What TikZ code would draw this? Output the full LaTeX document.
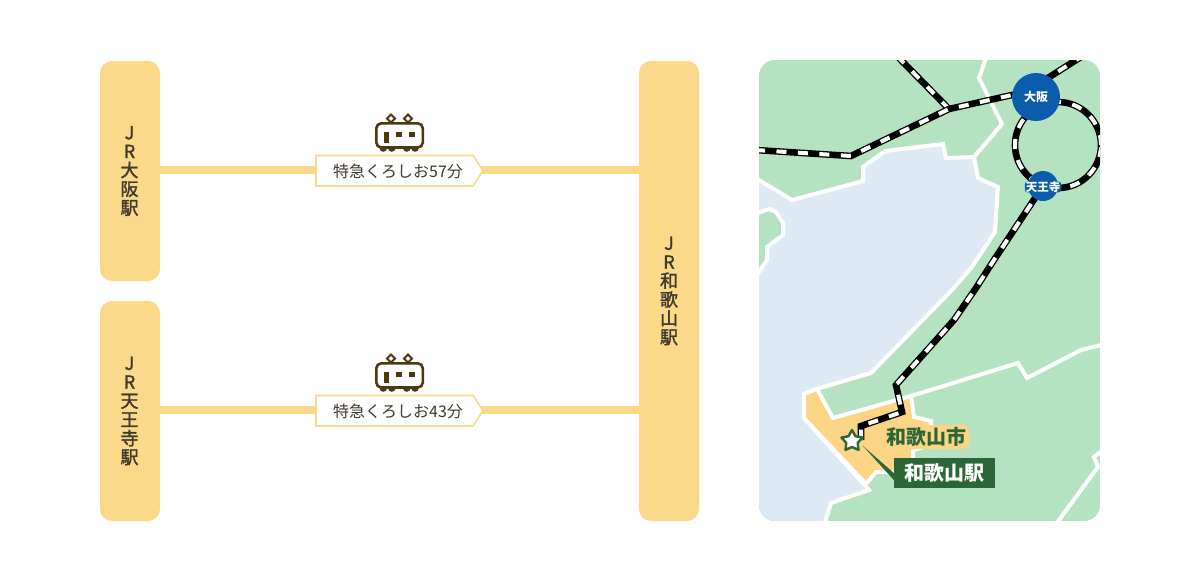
\documentclass[tikz,border=0pt]{standalone}
\usepackage{fontspec}
\setmainfont{Noto Sans CJK JP}
\newfontfamily\medfont[FakeBold=1.6]{Noto Sans CJK JP}
\definecolor{tan}{HTML}{FADA8A}
\definecolor{ink}{HTML}{4A3A10}
\definecolor{textink}{HTML}{3F3A2A}
\definecolor{land}{HTML}{B5E2C0}
\definecolor{sea}{HTML}{DDEAF3}
\definecolor{city}{HTML}{FCD485}
\definecolor{pine}{HTML}{2B6636}
\definecolor{jrblue}{HTML}{0B5CAB}
\tikzset{
  stationbox/.style={draw=none,fill=tan,rounded corners=12pt,minimum width=60pt,inner sep=0pt},
  stationtext/.style={align=center,text=textink,font=\medfont\fontsize{18}{18.8}\selectfont,inner sep=0pt},
  linkline/.style={draw=tan,line width=8pt},
  timetag/.style={draw=tan,fill=white,line width=1.6pt,line join=miter},
  timetext/.style={text=textink,font=\fontsize{16}{18}\selectfont,inner sep=0pt},
  border/.style={draw=white,line width=4pt,line join=miter},
  railb/.style={draw=black,line width=6.6pt,line join=miter},
  railw/.style={draw=white,line width=4pt,dash pattern=on 10pt off 11.5pt,line join=miter},
  trainline/.style={draw=ink,line width=2.6pt},
  trainfill/.style={fill=ink,draw=none},
}
\newcommand{\railline}[1]{\draw[railb] #1; \draw[railw] #1;}
\newcommand{\trainicon}[1]{%
  \begin{scope}[shift={(0,#1)}]
    \draw[trainline,fill=white,line width=1.8pt] (391,114.5) -- (395,118.5) -- (391,122.5) -- (387,118.5) -- cycle;
    \draw[trainline,fill=white,line width=1.8pt] (408,114.5) -- (412,118.5) -- (408,122.5) -- (404,118.5) -- cycle;
    \fill[ink] (379.5,148) arc[start angle=180,end angle=360,radius=3.8pt] -- cycle;
    \fill[ink] (388,148) arc[start angle=180,end angle=360,radius=3.8pt] -- cycle;
    \fill[ink] (403,148) arc[start angle=180,end angle=360,radius=3.8pt] -- cycle;
    \fill[ink] (411.2,148) arc[start angle=180,end angle=360,radius=3.8pt] -- cycle;
    \draw[trainline,fill=white,rounded corners=5pt] (376.3,147.5) -- (376.3,123.3) -- (422.8,123.3) -- (422.8,147.5) -- cycle;
    \fill[trainfill] (384.3,132.3) rectangle (389.3,143.3);
    \fill[trainfill] (396,132.3) rectangle (401.7,136.7);
    \fill[trainfill] (409.3,132.3) rectangle (415,136.7);
  \end{scope}}
\begin{document}
\begin{tikzpicture}[x=1pt,y=-1pt]
\useasboundingbox (0,0) rectangle (1200,582);
\fill[white] (0,0) rectangle (1200,582);
% left panel
\node[stationbox,minimum height=220pt] (osakabox) at (130,171) {};
\node[stationbox,minimum height=220pt] (tennojibox) at (130,411) {};
\node[stationbox,minimum height=460pt] (wakayamabox) at (669,291) {};
\draw[linkline] ([yshift=1pt]osakabox.east) -- ([yshift=1pt]osakabox.east -| wakayamabox.west);
\draw[linkline] ([yshift=1pt]tennojibox.east) -- ([yshift=1pt]tennojibox.east -| wakayamabox.west);
\node[stationtext] (osakatext) at (129.5,171) {J\\R\\大\\阪\\駅};
\node[stationtext] (tennojitext) at (129.5,411) {J\\R\\天\\王\\寺\\駅};
\node[stationtext] (wakayamatext) at (669,291) {J\\R\\和\\歌\\山\\駅};
\trainicon{0}
\trainicon{240}
\draw[timetag] (316,155.5) -- (473,155.5) -- (483,170.5) -- (473,186) -- (316,186) -- cycle;
\draw[timetag] (316,395.5) -- (473,395.5) -- (483,410.5) -- (473,426) -- (316,426) -- cycle;
\node[timetext] (time1) at (398,171.5) {特急くろしお57分};
\node[timetext] (time2) at (398,411.5) {特急くろしお43分};
% map
\begin{scope}
  \clip[rounded corners=16pt] (759,60) rectangle (1100,521);
  \fill[land] (759,60) rectangle (1100,521);
  \draw[border,fill=sea] (750,175) -- (759,180) -- (792,200) -- (863,181) -- (863,167) -- (885,151) -- (943,144) -- (946,158) -- (974,157) -- (978,178) -- (998,187) -- (995,232) -- (972,267) -- (952,290) -- (871,373) -- (817,389) -- (804,394) -- (804,418) -- (869,490) -- (831,503) -- (824,525) -- (750,525) -- cycle;
  \draw[border,fill=land] (750,216) -- (769,209) -- (776,212) -- (783,223) -- (783,235) -- (767,247) -- (767,260) -- (750,285) -- cycle;
  \draw[border,fill=city] (817,389) -- (804,394) -- (804,418) -- (866,484) -- (876,472) -- (913,473) -- (913,450) -- (931,445) -- (931,421) -- (914,417) -- (911,396) -- (833,418) -- cycle;
  \draw[border] (987,55) -- (979,78) -- (1002,124) -- (974,157);
  \draw[border] (911,396) -- (1018,363) -- (1027,378) -- (1081,350) -- (1105,344);
  \draw[border] (1056,524) -- (1098,467) -- (1094,457) -- (1104,449);
  \coordinate (loopc) at (1058,145);
  \coordinate (tr1) at (897,56);
  \coordinate (junction) at (949,109);
  \coordinate (west) at (755,150);
  \coordinate (bendw) at (851,156);
  \coordinate (osakaw) at (1030,91);
  \coordinate (nestart) at (1040,83);
  \coordinate (ne) at (1084,55);
  \coordinate (b1) at (976,288);
  \coordinate (b2) at (954,320);
  \coordinate (b3) at (896,385);
  \coordinate (b4) at (902,412);
  \coordinate (b5) at (861,426);
  \coordinate (stationpt) at (861,440);
  \coordinate (tennojic) at (1043,186);
  \railline{(loopc) ++(43,0) arc[start angle=0,end angle=360,radius=43pt]}
  \railline{(tr1) -- (junction)}
  \railline{(west) -- (bendw) -- (junction) -- (osakaw)}
  \railline{(nestart) -- (ne)}
  \railline{(tennojic) -- (992,263) -- (b1) -- (b2) -- (b3) -- (b4) -- (b5) -- (stationpt)}
  \node[circle,fill=jrblue,minimum size=48pt,inner sep=0pt,text=white,font=\fontsize{12}{14}\selectfont\bfseries] (osaka) at (1036,97) {大阪};
  \node[circle,fill=jrblue,minimum size=30pt,inner sep=0pt] (tennoji) at (tennojic) {};
  \node[fill=jrblue,rounded corners=3pt,inner xsep=1pt,inner ysep=0pt,text=white,font=\fontsize{11.5}{14}\selectfont\bfseries] (tennojilabel) at (1043,187) {天王寺};
\end{scope}
% city label
\node[fill=city,rounded corners=7pt,inner xsep=3pt,inner ysep=0pt,minimum height=24pt,text=pine,font=\fontsize{20}{22}\selectfont\bfseries] (citylabel) at (926.5,437) {和歌山市};
% station marker and callout
\node[fill=pine,inner sep=0pt,minimum width=101pt,minimum height=30pt,text=white,font=\fontsize{20}{22}\selectfont\bfseries] (stationlabel) at (944.5,473) {和歌山駅};
\coordinate (callouttip) at (863,446);
\fill[pine] (callouttip) -- (stationlabel.west) -- ([yshift=-7pt]stationlabel.west) -- cycle;
\draw[pine,fill=white,line width=2.4pt,line join=round] (852,430) -- (855.5,436.2) -- (862.5,437.6) -- (857.7,442.9) -- (858.5,449.9) -- (852,447) -- (845.5,449.9) -- (846.3,442.9) -- (841.5,437.6) -- (848.5,436.2) -- cycle;
\end{tikzpicture}
\end{document}
